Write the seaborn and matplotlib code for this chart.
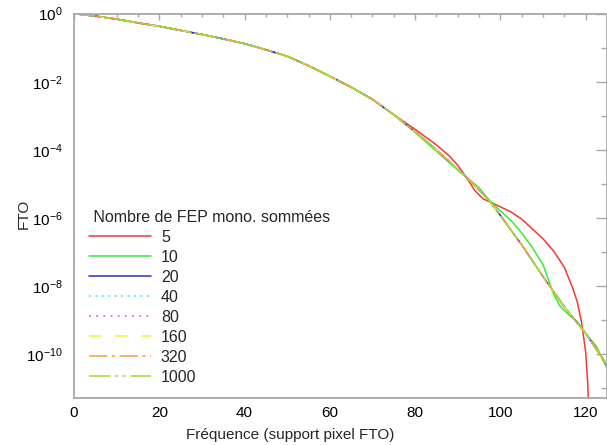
import numpy as np
import pandas as pd
import matplotlib
matplotlib.use("Agg")
import matplotlib.pyplot as plt
from matplotlib.ticker import FixedLocator, FixedFormatter, MultipleLocator, NullFormatter
import seaborn as sns

# frequencies 0..75: every curve is identical there (log10 of FTO)
freq_head = [0, 5, 10, 15, 20, 25, 30, 35, 40, 45, 50, 55, 60, 65, 70, 75]
exp_head = [0, -0.07, -0.16, -0.27, -0.37, -0.49, -0.61, -0.74, -0.88, -1.06,
            -1.25, -1.53, -1.84, -2.16, -2.52, -2.97]

# converged curve (20 and more summed FEP)
freq_tail_main = [80, 85, 90, 92, 95, 97.5, 100, 105, 110, 115, 120, 125]
exp_tail_main = [-3.47, -4.0, -4.58, -4.81, -5.18, -5.52, -5.93, -6.80, -7.73,
                 -8.62, -9.40, -10.33]

# 5 summed FEP
freq_tail_5 = [80, 85, 88, 90, 92, 94, 96, 98, 100, 102.5, 105, 107.5, 110,
               112.5, 115, 117, 118, 119, 120, 120.5, 121]
exp_tail_5 = [-3.40, -3.86, -4.18, -4.46, -4.81, -5.20, -5.45, -5.56, -5.68,
              -5.83, -6.04, -6.33, -6.62, -6.98, -7.46, -8.08, -8.46, -9.05,
              -9.95, -10.9, -13.0]

# 10 summed FEP
freq_tail_10 = [80, 85, 88, 90, 92, 95, 97.5, 100, 102.5, 105, 107.5, 110,
                112.5, 114, 116, 118, 120, 122.5, 125]
exp_tail_10 = [-3.49, -4.04, -4.38, -4.60, -4.80, -5.12, -5.50, -5.80, -6.08,
               -6.45, -6.88, -7.38, -8.25, -8.60, -8.85, -9.05, -9.40, -9.78,
               -10.43]

series = ["5", "10", "20", "40", "80", "160", "320", "1000"]
colors = ["#ff3333", "#33ee33", "#2a2ae0", "#22e8ee", "#ff44cc", "#f2f230",
          "#ff9a3c", "#9ee02a"]
styles = ["-", "-", "-", (0, (1.2, 3.0)), (0, (1.2, 3.5)), (0, (8, 9)),
          (0, (12, 3, 2, 3)), (0, (14, 3, 2, 3, 2, 3))]

sns.set_style("white")
plt.rcParams["font.family"] = ["Liberation Sans", "DejaVu Sans"]
plt.rcParams["mathtext.default"] = "regular"

fig = plt.figure(figsize=(6.07, 4.45), dpi=100)
ax = fig.add_axes([74 / 607, 1 - 398 / 445, 533 / 607, (398 - 13.7) / 445])

for name, col, ls in zip(series, colors, styles):
    if name == "5":
        fx, fe = freq_head + freq_tail_5, exp_head + exp_tail_5
    elif name == "10":
        fx, fe = freq_head + freq_tail_10, exp_head + exp_tail_10
    else:
        fx, fe = freq_head + freq_tail_main, exp_head + exp_tail_main
    df = pd.DataFrame({"freq": fx, "fto": 10.0 ** np.array(fe)})
    sns.lineplot(data=df, x="freq", y="fto", ax=ax, color=col, linestyle=ls,
                 linewidth=1.1, label=name, sort=False)

ax.set_yscale("log")
ax.set_xlim(0, 125)
ax.set_ylim(10 ** -11.3, 1)

major_y = [10.0 ** -k for k in range(0, 11, 2)]
ax.yaxis.set_major_locator(FixedLocator(major_y))
ax.yaxis.set_major_formatter(FixedFormatter(
    [r"$10^{%d}$" % -k for k in range(0, 11, 2)]))
ax.yaxis.set_minor_locator(FixedLocator([10.0 ** -k for k in range(1, 12, 2)]))
ax.yaxis.set_minor_formatter(NullFormatter())
ax.xaxis.set_major_locator(MultipleLocator(20))
ax.xaxis.set_minor_locator(MultipleLocator(5))

gray = "#a8a8a8"
for sp in ax.spines.values():
    sp.set_color(gray)
    sp.set_linewidth(1.3)
ax.tick_params(which="both", direction="in", top=True, right=True,
               color=gray, width=1.0, labelsize=11, labelcolor="black")
ax.tick_params(axis="y", which="major", length=8, pad=8)
ax.tick_params(axis="y", which="minor", length=4.3)
ax.tick_params(axis="x", which="major", length=4.5, pad=6)
ax.tick_params(axis="x", which="minor", length=2.5)

ax.set_xlabel("Fréquence (support pixel FTO)", fontsize=11)
ax.set_ylabel("FTO", fontsize=11)
ax.xaxis.set_label_coords((290 - 74) / 533, -0.078)
ax.yaxis.set_label_coords(-0.082, 0.48)

leg = ax.legend(title=" Nombre de FEP mono. sommées", loc="upper left",
                bbox_to_anchor=((89 - 74) / 533, (398 - 210) / 384.3),
                frameon=False, fontsize=11.5, title_fontsize=11.5,
                handlelength=3.9, handletextpad=0.6, labelspacing=0.31,
                borderpad=0, borderaxespad=0, alignment="left")

fig.savefig("out.png", dpi=100)
